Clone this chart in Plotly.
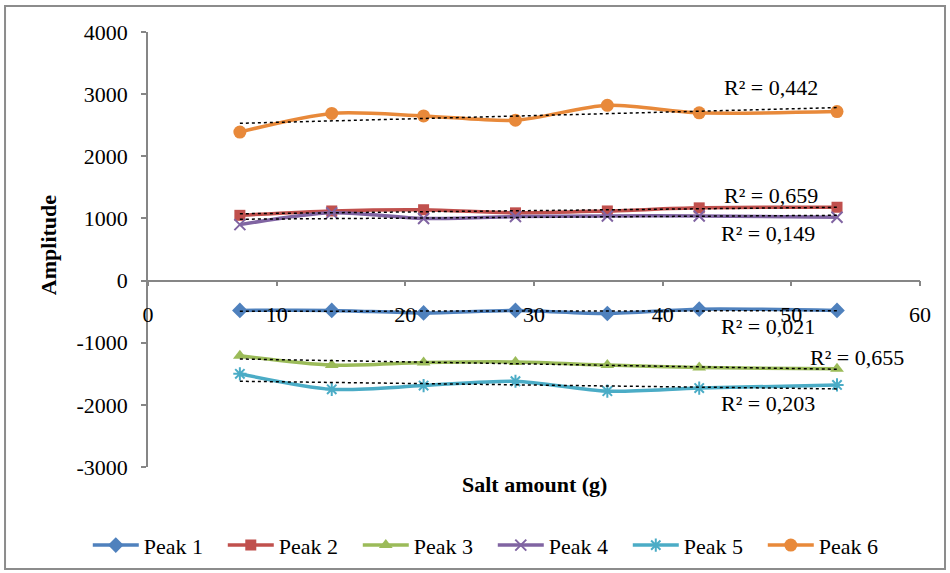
import numpy as np
import plotly.graph_objects as go

salt = [7.14, 14.28, 21.42, 28.56, 35.7, 42.84, 53.55]
peak1 = [-480, -480, -520, -480, -530, -460, -480]
peak2 = [1050, 1120, 1140, 1090, 1120, 1170, 1180]
peak3 = [-1210, -1360, -1320, -1310, -1360, -1400, -1420]
peak4 = [900, 1090, 1000, 1030, 1040, 1040, 1020]
peak5 = [-1500, -1750, -1690, -1620, -1780, -1730, -1680]
peak6 = [2390, 2690, 2650, 2580, 2820, 2700, 2720]
names = ["Peak 1", "Peak 2", "Peak 3", "Peak 4", "Peak 5", "Peak 6"]
r2_labels = ["R² = 0,021", "R² = 0,659", "R² = 0,655", "R² = 0,149", "R² = 0,203", "R² = 0,442"]
y_ticks = [-3000, -2000, -1000, 0, 1000, 2000, 3000, 4000]
y_ticktext = [str(v) for v in y_ticks]
x_ticks = [0, 10, 20, 30, 40, 50, 60]

series = [peak1, peak2, peak3, peak4, peak5, peak6]
colors = ["#4F81BD", "#C0504D", "#9BBB59", "#8064A2", "#4BACC6", "#E8893A"]
symbols = ["diamond", "square", "triangle-up", "x-thin-open", "asterisk-open", "circle"]
msizes = [12, 11, 12, 11, 11, 13]
FONT = "Liberation Serif"
FS = 22

fig = go.Figure()
for vals, name, col, sym, ms in zip(series, names, colors, symbols, msizes):
    mk = dict(symbol=sym, size=ms, color=col)
    if sym.endswith("open"):
        mk["line"] = dict(color=col, width=2)
    fig.add_trace(go.Scatter(
        x=salt, y=vals, name=name, mode="lines+markers",
        line=dict(color=col, width=3.5, shape="spline", smoothing=0.8),
        marker=mk,
    ))

# linear trendlines
xs = np.array(salt)
for vals in series:
    a, b = np.polyfit(xs, np.array(vals, dtype=float), 1)
    xe = [xs[0], xs[-1]]
    fig.add_trace(go.Scatter(
        x=xe, y=[a * v + b for v in xe], mode="lines", showlegend=False,
        line=dict(color="black", width=1.5, dash="dot"), hoverinfo="skip",
    ))

# R² label positions (x, y in data units)
label_pos = [(48.2, -741), (48.4, 1369), (55.1, -1240), (48.2, 757), (48.2, -1981), (48.4, 3108)]
for txt, (lx, ly) in zip(r2_labels, label_pos):
    fig.add_annotation(x=lx, y=ly, text=txt, showarrow=False,
                       font=dict(family=FONT, size=FS, color="black"),
                       xanchor="center", yanchor="middle")

# axis titles
fig.add_annotation(xref="paper", yref="paper", x=0.5, y=-0.041, text="<b>Salt amount (g)</b>",
                   showarrow=False, font=dict(family=FONT, size=FS, color="black"),
                   xanchor="center", yanchor="middle")
fig.add_annotation(xref="paper", yref="paper", x=-0.1295, y=0.51, text="<b>Amplitude</b>",
                   textangle=-90, showarrow=False, font=dict(family=FONT, size=FS, color="black"),
                   xanchor="center", yanchor="middle")

# outer chart border
fig.add_shape(type="rect", xref="paper", yref="paper", x0=-0.1852, x1=1.0324, y0=-0.2345, y1=1.0598,
              line=dict(color="#8C8C8C", width=2), fillcolor="rgba(0,0,0,0)", layer="below")

fig.update_layout(
    width=950, height=573,
    margin=dict(l=148, r=30, t=32, b=106, autoexpand=False),
    paper_bgcolor="white", plot_bgcolor="white",
    font=dict(family=FONT, size=FS, color="black"),
    showlegend=True,
    legend=dict(orientation="h", x=-0.078, xanchor="left", y=-0.18, yanchor="middle",
                font=dict(family=FONT, size=FS, color="black"), itemwidth=46,
                entrywidth=74, entrywidthmode="pixels", bgcolor="rgba(0,0,0,0)"),
    xaxis=dict(range=[0, 60], tickvals=x_ticks, showgrid=False, zeroline=False,
               showline=True, linecolor="#868686", linewidth=1.5, automargin=False,
               ticks="outside", ticklen=5, tickcolor="#868686", tickwidth=1.5,
               anchor="free", position=3 / 7, ticklabelstandoff=9,
               tickfont=dict(family=FONT, size=FS, color="black")),
    yaxis=dict(range=[-3000, 4000], tickvals=y_ticks, ticktext=y_ticktext,
               showgrid=False, zeroline=False, automargin=False,
               showline=True, linecolor="#868686", linewidth=1.5,
               ticks="outside", ticklen=5, tickcolor="#868686", tickwidth=1.5,
               ticklabelstandoff=9,
               tickfont=dict(family=FONT, size=FS, color="black")),
)

fig.write_html("out.html", config={"displayModeBar": False},
               post_script="document.body.style.margin='0';")
